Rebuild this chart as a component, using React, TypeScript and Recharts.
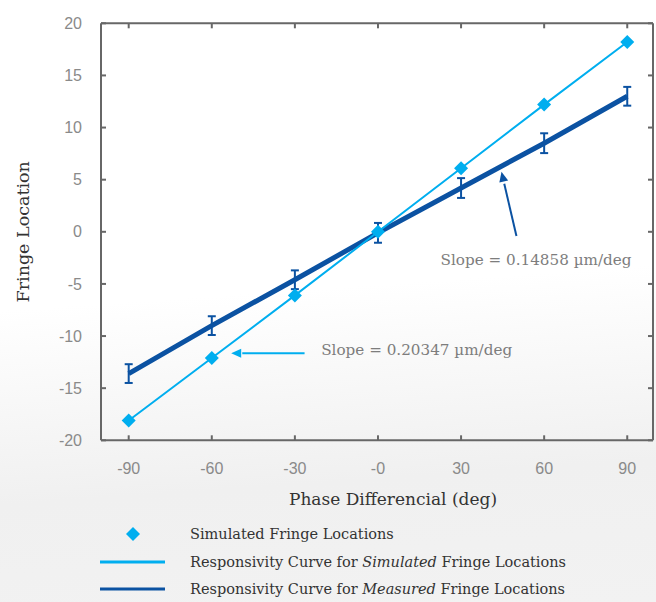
import React from 'react'
import {
  ComposedChart,
  Line,
  XAxis,
  YAxis,
  ErrorBar,
  ReferenceLine,
  ReferenceDot,
} from 'recharts'

// phase differential (deg)
const phases = [-90, -60, -30, 0, 30, 60, 90]
const xTickLabels = ['-90', '-60', '-30', '-0', '30', '60', '90']
const yTicks = [-20, -15, -10, -5, 0, 5, 10, 15, 20]

// fringe locations
const simulated = [-18.1, -12.1, -6.1, 0, 6.1, 12.2, 18.2]
const measured = [-13.6, -9.0, -4.6, -0.1, 4.2, 8.5, 13.0]
const measuredErr = [0.9, 0.9, 0.9, 0.95, 0.95, 0.95, 0.9]

const LIGHT = '#00aeef'
const DARK = '#0b52a2'
const AXIS = '#676767'
const SERIF = '"DejaVu Serif", serif'
const SANS = '"Liberation Sans", Arial, sans-serif'

const chartData = phases.map((x, i) => ({
  x,
  sim: simulated[i],
  meas: measured[i],
  err: measuredErr[i],
}))

const xDomain = [-100, 99.3]

const Diamond = (props: any) => {
  const { cx, cy } = props
  if (cx == null || cy == null) return null
  const r = 7
  return (
    <polygon
      points={`${cx},${cy - r} ${cx + r},${cy} ${cx},${cy + r} ${cx - r},${cy}`}
      fill={LIGHT}
    />
  )
}

const arrowHead = (color: string, angle: number) => (props: any) => {
  const { cx, cy } = props
  return (
    <polygon
      points="0,0 -10,-4.5 -10,4.5"
      fill={color}
      transform={`translate(${cx},${cy}) rotate(${angle})`}
    />
  )
}

const note = (text: string) => (props: any) => {
  const { cx, cy } = props
  return (
    <text
      x={cx}
      y={cy}
      dy="0.35em"
      fill="#7d7d7d"
      fontFamily={SERIF}
      fontSize={15.2}
      textAnchor="start"
    >
      {text}
    </text>
  )
}

function LegendBlock() {
  const rows = [
    { kind: 'diamond', label: <>Simulated Fringe Locations</> },
    {
      kind: 'light',
      label: (
        <>
          Responsivity Curve for <i>Simulated</i> Fringe Locations
        </>
      ),
    },
    {
      kind: 'dark',
      label: (
        <>
          Responsivity Curve for <i>Measured</i> Fringe Locations
        </>
      ),
    },
  ]
  return (
    <div style={{ position: 'absolute', left: 0, top: 520 }}>
      {rows.map((r, i) => (
        <div
          key={i}
          style={{ position: 'absolute', top: i * 27.5, left: 0, height: 28, width: 656 }}
        >
          <svg width={180} height={28} style={{ position: 'absolute', left: 0, top: 0 }}>
            {r.kind === 'diamond' && (
              <polygon points="133,7 140,14 133,21 126,14" fill={LIGHT} />
            )}
            {r.kind !== 'diamond' && (
              <line
                x1={100}
                x2={165}
                y1={14}
                y2={14}
                stroke={r.kind === 'light' ? LIGHT : DARK}
                strokeWidth={3}
              />
            )}
          </svg>
          <div
            style={{
              position: 'absolute',
              left: 190,
              top: 0,
              lineHeight: '28px',
              fontFamily: SERIF,
              fontSize: 14.5,
              color: '#333',
              whiteSpace: 'nowrap',
            }}
          >
            {r.label}
          </div>
        </div>
      ))}
    </div>
  )
}

export default function App() {
  const tickStyle = { fill: '#8a8a8a', fontSize: 16, fontFamily: SANS }
  const lineStyle = { stroke: AXIS, strokeWidth: 2 }
  return (
    <div
      style={{
        position: 'absolute',
        left: 0,
        top: 0,
        width: 656,
        height: 602,
        overflow: 'hidden',
        background:
          'linear-gradient(176deg, #ffffff 0%, #ffffff 48%, #f0f0f0 78%, #f2f2f2 100%)',
      }}
    >
      <ComposedChart
        width={656}
        height={520}
        data={chartData}
        margin={{ top: 0, right: 0, left: 0, bottom: 9.7 }}
      >
        <XAxis
          dataKey="x"
          type="number"
          domain={xDomain}
          ticks={phases}
          allowDataOverflow
          tickFormatter={(v: number) => xTickLabels[phases.indexOf(v)] ?? ''}
          tick={tickStyle}
          tickSize={-5}
          tickMargin={27}
          axisLine={lineStyle}
          tickLine={lineStyle}
          height={70}
          label={{
            value: 'Phase Differencial (deg)',
            position: 'insideBottom',
            offset: 5,
            dx: 16,
            style: { fill: '#333', fontFamily: SERIF, fontSize: 17 },
          }}
        />
        <XAxis
          xAxisId="top"
          dataKey="x"
          type="number"
          orientation="top"
          domain={xDomain}
          ticks={phases}
          allowDataOverflow
          tickFormatter={() => ''}
          tickSize={-5}
          axisLine={lineStyle}
          tickLine={lineStyle}
          height={23.3}
        />
        <YAxis
          type="number"
          domain={[-20, 20]}
          ticks={yTicks}
          allowDataOverflow
          tick={tickStyle}
          tickSize={-5}
          tickMargin={24}
          axisLine={lineStyle}
          tickLine={lineStyle}
          width={101}
          label={{
            value: 'Fringe Location',
            angle: -90,
            position: 'insideLeft',
            offset: 23,
            style: { fill: '#333', fontFamily: SERIF, fontSize: 17.5, textAnchor: 'middle' },
          }}
        />
        <YAxis
          yAxisId="right"
          type="number"
          orientation="right"
          domain={[-20, 20]}
          ticks={yTicks}
          allowDataOverflow
          tickFormatter={() => ''}
          tickSize={-5}
          axisLine={lineStyle}
          tickLine={lineStyle}
          width={3}
        />

        <Line
          dataKey="meas"
          stroke={DARK}
          strokeWidth={5}
          dot={false}
          activeDot={false}
          isAnimationActive={false}
        >
          <ErrorBar dataKey="err" width={4} stroke={DARK} strokeWidth={2} />
        </Line>
        <Line
          dataKey="sim"
          stroke={LIGHT}
          strokeWidth={2}
          dot={<Diamond />}
          activeDot={false}
          isAnimationActive={false}
        />

        {/* annotation arrows */}
        <ReferenceLine
          segment={[
            { x: 50, y: -0.4 },
            { x: 45.6, y: 4.6 },
          ]}
          stroke={DARK}
          strokeWidth={2}
        />
        <ReferenceDot x={44.6} y={5.77} r={0} shape={arrowHead(DARK, -103)} />
        <ReferenceLine
          segment={[
            { x: -26.5, y: -11.65 },
            { x: -49, y: -11.65 },
          ]}
          stroke={LIGHT}
          strokeWidth={2}
        />
        <ReferenceDot x={-53} y={-11.65} r={0} shape={arrowHead(LIGHT, 180)} />
        <ReferenceDot x={22.6} y={-2.7} r={0} shape={note('Slope = 0.14858 µm/deg')} />
        <ReferenceDot x={-20.5} y={-11.3} r={0} shape={note('Slope = 0.20347 µm/deg')} />
      </ComposedChart>
      <LegendBlock />
    </div>
  )
}
